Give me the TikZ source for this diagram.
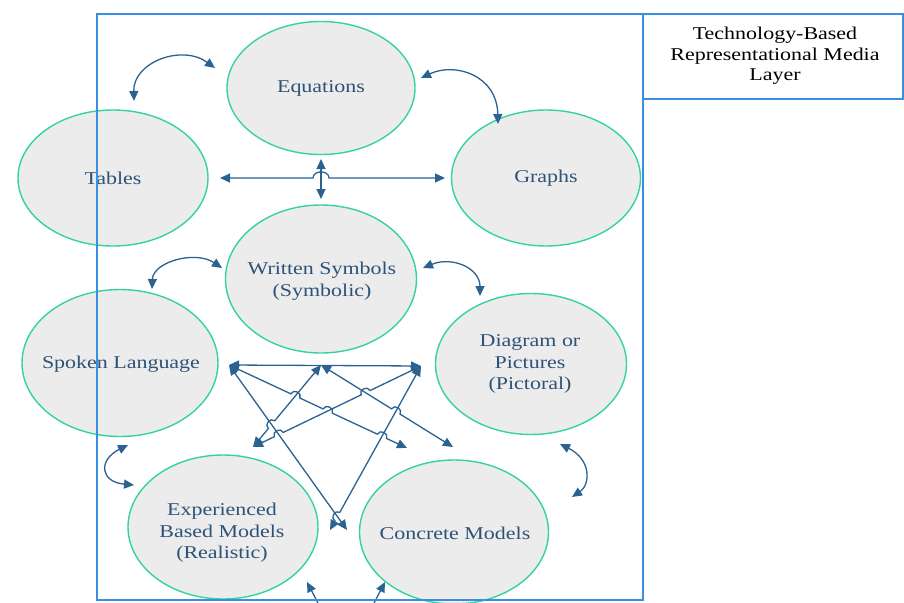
\documentclass[tikz,border=0pt]{standalone}
\usepackage{fontspec}
\setmainfont[FakeStretch=1.22]{Liberation Serif}
\usetikzlibrary{shapes.geometric,arrows.meta,calc}
\definecolor{bubline}{RGB}{52,211,160}
\definecolor{bubfill}{RGB}{236,236,236}
\definecolor{arrc}{RGB}{42,98,145}
\definecolor{frm}{RGB}{58,143,222}
\definecolor{txtc}{RGB}{45,82,120}
\tikzset{
  bub/.style={ellipse, draw=bubline, fill=bubfill, line width=1.4pt, inner sep=0pt},
  lbl/.style={font=\fontsize{18}{21.5}\selectfont, text=txtc, align=center, inner sep=0pt},
  ttlstyle/.style={font=\fontsize{18}{20.5}\selectfont, text=black, align=center, inner sep=0pt},
  con/.style={draw=arrc, line width=1.3pt, {Triangle[length=10pt,width=9pt]}-{Triangle[length=10pt,width=9pt]}},
  one/.style={draw=arrc, line width=1.3pt, -{Triangle[length=10pt,width=9pt]}},
  framestyle/.style={draw=frm, line width=1.3pt},
}
\newcommand\hopL[3]{-- ($(#1)!5pt!(#2)$) to[bend left=90,looseness=1.5] ($(#1)!5pt!(#3)$)}
\newcommand\hopR[3]{-- ($(#1)!5pt!(#2)$) to[bend right=90,looseness=1.5] ($(#1)!5pt!(#3)$)}
\begin{document}
\begin{tikzpicture}[x=1pt,y=-1pt]
\useasboundingbox (0,0) rectangle (904,602);
\fill[white] (0,0) rectangle (904,602);

% bubbles
\node[bub, minimum width=188pt, minimum height=133pt] (eq) at (321,88) {};
\node[bub, minimum width=190pt, minimum height=136pt] (tab) at (113,178) {};
\node[bub, minimum width=189pt, minimum height=136pt] (gr) at (546,178) {};
\node[bub, minimum width=191pt, minimum height=148pt] (ws) at (321,279) {};
\node[bub, minimum width=196pt, minimum height=147pt] (sp) at (120,363) {};
\node[bub, minimum width=191pt, minimum height=141pt] (di) at (531,364) {};
\node[bub, minimum width=190pt, minimum height=144pt] (ex) at (223,527) {};
\node[bub, minimum width=189pt, minimum height=144pt] (co) at (454,532) {};

% labels
\node[lbl] (eqt) at (321,88) {Equations};
\node[lbl] (tabt) at (113,178) {Tables};
\node[lbl] (grt) at (546,178) {Graphs};
\node[lbl] (wst) at (322,281) {Written Symbols\\(Symbolic)};
\node[lbl] (spt) at (121,364) {Spoken Language};
\node[lbl] (dit) at (530,364) {Diagram or\\Pictures\\(Pictoral)};
\node[lbl] (ext) at (222,533) {Experienced\\Based Models\\(Realistic)};
\node[lbl] (cot) at (455,533) {Concrete Models};

% title box
\draw[framestyle] (643,14) rectangle (903,99);
\node[ttlstyle] (ttl) at (775,56) {Technology-Based\\Representational Media\\Layer};

% curved double arrows
\coordinate (et1) at (134,101); \coordinate (et2) at (215,68);
\draw[con] (et1) .. controls (133,62) and (182,44) .. (et2);
\coordinate (eg1) at (421,78); \coordinate (eg2) at (498,124);
\draw[con] (eg1) .. controls (455,62) and (497,75) .. (eg2);
\coordinate (ws1) at (152,289); \coordinate (ws2) at (222,268);
\draw[con] (ws1) .. controls (153,262) and (195,250) .. (ws2);
\coordinate (wd1) at (423,268); \coordinate (wd2) at (480,296);
\draw[con] (wd1) .. controls (452,256) and (480,268) .. (wd2);
\coordinate (se1) at (128,445); \coordinate (se2) at (134,485);
\draw[con] (se1) .. controls (98,460) and (100,482) .. (se2);
\coordinate (dc1) at (560,444); \coordinate (dc2) at (572,497);
\draw[con] (dc1) .. controls (592,460) and (590,485) .. (dc2);

% centre cross
\coordinate (hl) at (220,178); \coordinate (hr) at (445,178);
\coordinate (hx) at (321,178);
\coordinate (vt) at (321,159); \coordinate (vb) at (321,199);
\draw[con] (vt) -- (vb);
\draw[con] (hl) -- ($(hx)!8pt!(hl)$) to[bend left=90,looseness=1.3] ($(hx)!8pt!(hr)$) -- (hr);

% network
\coordinate (A) at (229,365); \coordinate (B) at (321,365); \coordinate (C) at (421,366);
\coordinate (P1) at (407,448); \coordinate (P2) at (347,530);
\coordinate (P3) at (253,447); \coordinate (P4) at (453,447); \coordinate (P5) at (330,530);
\coordinate (x13) at ($(A)!0.3728!(P1)$);
\coordinate (x15) at ($(A)!0.5543!(P1)$);
\coordinate (x16) at ($(A)!0.8594!(P1)$);
\coordinate (x54) at ($(C)!0.3297!(P3)$);
\coordinate (x52) at ($(C)!0.8467!(P3)$);
\coordinate (x32) at ($(B)!0.7264!(P3)$);
\coordinate (x46) at ($(B)!0.5666!(P4)$);
\coordinate (x62) at ($(C)!0.9184!(P5)$);

\draw[con] (A) -- (C);
\draw[con] (A) \hopL{x13}{A}{P1} \hopL{x15}{A}{P1} \hopL{x16}{A}{P1} -- (P1);
\draw[con] (A) -- (P2);
\draw[con] (B) \hopR{x32}{B}{P3} -- (P3);
\draw[con] (B) \hopL{x46}{B}{P4} -- (P4);
\draw[con] (C) \hopR{x54}{C}{P3} \hopR{x52}{C}{P3} -- (P3);
\draw[con] (C) \hopR{x62}{C}{P5} -- (P5);

% bottom arrows entering from below
\coordinate (b1s) at (318,603); \coordinate (b1e) at (307,582);
\coordinate (b2s) at (374,603); \coordinate (b2e) at (385,582);
\draw[one] (b1s) -- (b1e);
\draw[one] (b2s) -- (b2e);

% frame
\draw[framestyle] (97,14) rectangle (643,600);
\end{tikzpicture}
\end{document}
